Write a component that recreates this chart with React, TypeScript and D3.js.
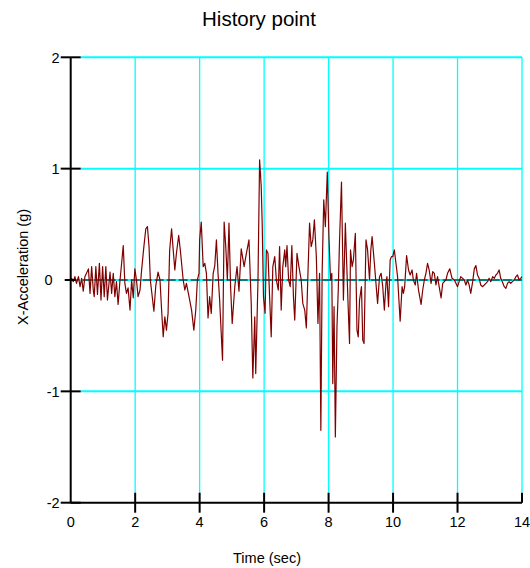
import React from "react";
import * as d3 from "d3";

const TITLE = "History point";
const X_LABEL = "Time (sec)";
const Y_LABEL = "X-Acceleration (g)";
const X_TICKS = [0, 2, 4, 6, 8, 10, 12, 14];
const Y_TICKS = [-2, -1, 0, 1, 2];

const times = [
  0.0, 0.03, 0.08, 0.13, 0.18, 0.24, 0.29, 0.34, 0.39, 0.44, 0.49, 0.55, 0.6, 0.65, 0.7, 0.73, 0.78, 0.83, 0.89, 0.94,
  0.99, 1.04, 1.09, 1.14, 1.22, 1.27, 1.32, 1.37, 1.42, 1.47, 1.53, 1.58, 1.63, 1.68, 1.73, 1.78, 1.84, 1.89, 1.94, 1.99,
  2.04, 2.09, 2.15, 2.2, 2.27, 2.33, 2.38, 2.43, 2.47, 2.53, 2.58, 2.64, 2.71, 2.77, 2.82, 2.87, 2.92, 2.97, 3.02, 3.07,
  3.13, 3.18, 3.23, 3.28, 3.35, 3.4, 3.49, 3.54, 3.59, 3.67, 3.75, 3.82, 3.88, 3.93, 3.98,
  4.0, 4.05, 4.11, 4.16, 4.21, 4.26, 4.31, 4.36, 4.42, 4.47, 4.52, 4.57, 4.62, 4.71, 4.76, 4.81, 4.86, 4.91, 4.96, 5.01,
  5.09, 5.16, 5.22, 5.29, 5.38, 5.45, 5.53, 5.6, 5.65, 5.71, 5.74, 5.81, 5.86, 5.91, 5.94, 5.98, 6.03, 6.07, 6.12, 6.17,
  6.22, 6.27, 6.33, 6.38, 6.44, 6.48, 6.53, 6.58, 6.64, 6.67, 6.71, 6.76, 6.81, 6.86, 6.91, 6.95, 7.02, 7.08, 7.15, 7.2,
  7.26, 7.31, 7.36, 7.41, 7.46, 7.51, 7.56, 7.62, 7.67, 7.72, 7.76, 7.8, 7.85, 7.9, 7.96, 8.01, 8.06, 8.1, 8.13, 8.17,
  8.21, 8.26, 8.3, 8.34, 8.4, 8.46, 8.52, 8.6, 8.65, 8.68, 8.73, 8.77, 8.83, 8.88, 8.92, 8.96, 9.02, 9.06, 9.1, 9.16,
  9.21, 9.27, 9.31, 9.35, 9.42, 9.47, 9.52, 9.58, 9.63, 9.68, 9.73, 9.78, 9.81, 9.86, 9.91, 9.95, 9.99, 10.04, 10.09, 10.14,
  10.22, 10.28, 10.32, 10.36, 10.42, 10.48, 10.53, 10.59, 10.63, 10.69, 10.73, 10.79, 10.87, 10.92, 10.97, 11.02, 11.07, 11.12, 11.18, 11.23,
  11.28, 11.33, 11.38, 11.43, 11.49, 11.54, 11.59, 11.64, 11.69, 11.76, 11.83, 11.9, 11.95, 12.0, 12.05, 12.1, 12.16, 12.21, 12.26, 12.31,
  12.36, 12.41, 12.47, 12.52, 12.57, 12.62, 12.67, 12.72, 12.77, 12.83, 12.88, 12.93, 12.98, 13.03, 13.09, 13.14, 13.19, 13.24, 13.29, 13.34,
  13.39, 13.45, 13.5, 13.55, 13.6, 13.65, 13.7, 13.76, 13.81, 13.86, 13.91, 13.96, 14.0,
];

const accel = [
  0.0, 0.015, -0.015, 0.03, -0.03, 0.03, -0.06, 0.015, -0.1, 0.03, 0.06, 0.1, -0.12, 0.12, -0.09, -0.15, 0.12, -0.13, 0.15, -0.18,
  0.12, -0.15, 0.12, -0.18, 0.07, -0.12, 0.06, -0.15, -0.015, -0.22, 0.0, 0.15, 0.31, -0.03, -0.12, -0.07, -0.27, 0.0, -0.16, 0.1,
  0.0, -0.15, -0.09, 0.09, 0.3, 0.46, 0.48, 0.3, 0.0, -0.15, -0.28, -0.05, 0.07, 0.0, -0.27, -0.51, -0.33, -0.45, -0.3, 0.27,
  0.46, 0.27, 0.09, 0.24, 0.4, 0.27, 0.0, -0.09, -0.03, -0.15, -0.27, -0.45, -0.27, 0.0, 0.06,
  0.36, 0.52, 0.12, 0.15, 0.06, -0.34, -0.15, -0.3, 0.06, 0.13, 0.36, 0.06, -0.18, -0.72, 0.52, 0.3, 0.0, 0.51, -0.06, -0.39,
  -0.06, 0.12, -0.1, 0.28, 0.12, 0.24, 0.36, -0.21, -0.88, -0.33, -0.84, 0.0, 1.08, 0.84, 0.51, -0.15, -0.3, 0.27, 0.24, -0.15,
  -0.51, 0.12, 0.21, 0.0, -0.09, 0.3, -0.27, 0.12, 0.27, 0.12, 0.31, 0.0, -0.06, 0.31, -0.15, -0.36, 0.24, 0.12, 0.0, -0.21,
  -0.27, -0.43, 0.06, 0.51, 0.3, 0.36, 0.54, 0.21, -0.39, 0.06, -1.35, 0.06, 0.72, 0.48, 0.97, 0.39, 0.0, 0.06, -0.93, -0.24,
  -1.41, -0.42, -0.09, 0.36, 0.88, -0.18, 0.51, -0.18, -0.57, 0.27, 0.12, 0.18, 0.42, -0.45, -0.51, -0.18, -0.06, -0.54, -0.57, 0.36,
  0.27, 0.0, 0.27, 0.39, 0.15, -0.03, -0.21, 0.03, 0.06, -0.06, -0.27, -0.03, 0.03, -0.24, 0.18, 0.21, 0.21, 0.27, 0.15, 0.03,
  -0.37, -0.06, -0.12, -0.06, 0.22, 0.09, 0.045, 0.09, 0.0, -0.045, 0.06, -0.09, -0.22, -0.09, 0.0, 0.06, 0.15, 0.09, -0.03, 0.075,
  0.06, -0.045, 0.03, -0.06, -0.16, -0.03, -0.015, 0.0, 0.06, 0.1, 0.015, 0.0, -0.03, -0.06, -0.015, 0.03, 0.015, 0.0, -0.045, 0.0,
  -0.045, -0.12, -0.015, 0.1, 0.13, 0.045, 0.015, -0.045, -0.06, -0.045, -0.03, -0.015, 0.015, -0.015, 0.03, 0.015, 0.045, 0.06, 0.09, 0.015,
  -0.015, -0.06, -0.075, -0.03, -0.015, -0.03, -0.015, 0.0, 0.03, 0.045, 0.0, 0.015, 0.03,
];

const FONT = "'Liberation Sans', Arial, sans-serif";

export default function App() {
  const left = 70.7;
  const right = 522;
  const top = 57.3;
  const bottom = 502.7;
  const x = d3.scaleLinear().domain([0, 14]).range([left, right]);
  const y = d3.scaleLinear().domain([-2, 2]).range([bottom, top]);
  const pts = times.map((t, i) => [t, accel[i]] as [number, number]);
  const line = d3
    .line<[number, number]>()
    .x((d) => x(d[0]))
    .y((d) => y(d[1]));
  const path = line(pts) || "";

  return (
    <svg
      width={530}
      height={568}
      style={{ position: "absolute", left: 0, top: 0, background: "#fff" }}
      fontFamily={FONT}
    >
      {/* horizontal grid */}
      {Y_TICKS.filter((v) => v !== -2).map((v) => (
        <line key={"hg" + v} x1={left + 10} x2={right} y1={y(v)} y2={y(v)} stroke="#00ffff" strokeWidth={2} />
      ))}
      {/* vertical grid */}
      {X_TICKS.filter((v) => v !== 0).map((v) => (
        <line key={"vg" + v} x1={x(v)} x2={x(v)} y1={top} y2={bottom - 10} stroke="#00ffff" strokeWidth={1.3} />
      ))}
      {/* zero line */}
      <line x1={left} x2={right} y1={y(0)} y2={y(0)} stroke="#000" strokeWidth={1.2} strokeDasharray="9,3" />
      {/* signal */}
      <path d={path} fill="none" stroke="#800000" strokeWidth={1.2} strokeLinejoin="round" />
      {/* axes */}
      <line x1={left} x2={left} y1={top} y2={bottom} stroke="#000" strokeWidth={2} />
      <line x1={left} x2={right} y1={bottom} y2={bottom} stroke="#000" strokeWidth={2} />
      {/* y ticks */}
      {Y_TICKS.map((v) => (
        <g key={"yt" + v}>
          <line
            x1={v === 0 ? left - 6 : left - 10}
            x2={v === 0 ? left + 5 : left + 10}
            y1={y(v)}
            y2={y(v)}
            stroke="#000"
            strokeWidth={2}
          />
          <text
            x={v === 0 ? left - 18 : left - 11}
            y={y(v)}
            dy="0.36em"
            textAnchor="end"
            fontSize={14.5}
            fill="#000"
          >
            {String(v)}
          </text>
        </g>
      ))}
      {/* x ticks */}
      {X_TICKS.map((v) => (
        <g key={"xt" + v}>
          {v !== 0 && (
            <line
              x1={x(v)}
              x2={x(v)}
              y1={bottom - 10}
              y2={v === 14 ? bottom : bottom + 10}
              stroke="#000"
              strokeWidth={2}
            />
          )}
          <text x={x(v)} y={527} textAnchor="middle" fontSize={14.5} fill="#000">
            {String(v)}
          </text>
        </g>
      ))}
      {/* titles */}
      <text x={259} y={26} textAnchor="middle" fontSize={20.5} fill="#000">
        {TITLE}
      </text>
      <text x={267} y={563} textAnchor="middle" fontSize={14.5} fill="#000">
        {X_LABEL}
      </text>
      <text
        transform={`translate(28, 267) rotate(-90)`}
        textAnchor="middle"
        fontSize={14.5}
        fill="#000"
      >
        {Y_LABEL}
      </text>
    </svg>
  );
}
